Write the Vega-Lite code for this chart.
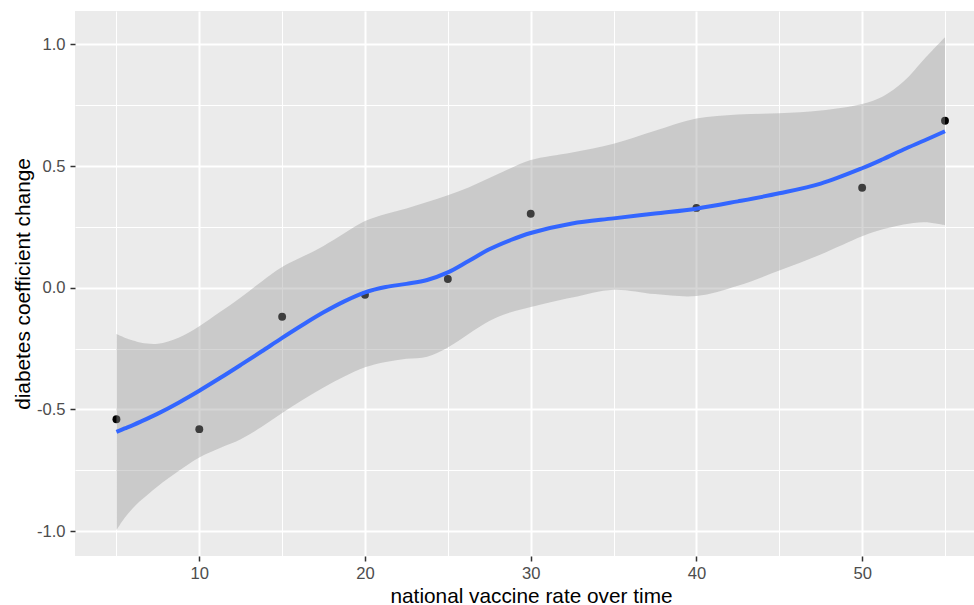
{
  "$schema": "https://vega.github.io/schema/vega-lite/v6.json",
  "width": 899,
  "height": 545,
  "autosize": {"type": "none"},
  "padding": {"left": 75, "top": 11, "right": 0, "bottom": 49},
  "background": "white",
  "config": {
    "view": {"fill": "#EBEBEB", "stroke": null},
    "font": "Liberation Sans"
  },
  "datasets": {
    "points": [
      {"x": 5, "y": -0.540},
      {"x": 10, "y": -0.581},
      {"x": 15, "y": -0.119},
      {"x": 20, "y": -0.029},
      {"x": 25, "y": 0.036},
      {"x": 30, "y": 0.304},
      {"x": 40, "y": 0.328},
      {"x": 50, "y": 0.411},
      {"x": 55, "y": 0.686}
    ],
    "fit": [
      {"x": 5, "fit": -0.592, "lower": -0.996, "upper": -0.19},
      {"x": 5.5, "fit": -0.578, "lower": -0.945, "upper": -0.205},
      {"x": 6, "fit": -0.564, "lower": -0.905, "upper": -0.217},
      {"x": 6.5, "fit": -0.549, "lower": -0.872, "upper": -0.226},
      {"x": 7.5, "fit": -0.517, "lower": -0.815, "upper": -0.23},
      {"x": 8.75, "fit": -0.472, "lower": -0.753, "upper": -0.205},
      {"x": 10, "fit": -0.423, "lower": -0.697, "upper": -0.158},
      {"x": 11.25, "fit": -0.371, "lower": -0.658, "upper": -0.1},
      {"x": 12.5, "fit": -0.317, "lower": -0.622, "upper": -0.04},
      {"x": 13.75, "fit": -0.262, "lower": -0.572, "upper": 0.025},
      {"x": 15, "fit": -0.206, "lower": -0.515, "upper": 0.085},
      {"x": 16.25, "fit": -0.152, "lower": -0.46, "upper": 0.128},
      {"x": 17.5, "fit": -0.101, "lower": -0.41, "upper": 0.172},
      {"x": 18.75, "fit": -0.056, "lower": -0.365, "upper": 0.224},
      {"x": 20, "fit": -0.019, "lower": -0.327, "upper": 0.274},
      {"x": 21.25, "fit": 0.003, "lower": -0.305, "upper": 0.303},
      {"x": 22.5, "fit": 0.016, "lower": -0.292, "upper": 0.326},
      {"x": 23.75, "fit": 0.032, "lower": -0.283, "upper": 0.352},
      {"x": 25, "fit": 0.063, "lower": -0.245, "upper": 0.38},
      {"x": 26.25, "fit": 0.11, "lower": -0.19, "upper": 0.412},
      {"x": 27.5, "fit": 0.158, "lower": -0.137, "upper": 0.451},
      {"x": 28.75, "fit": 0.195, "lower": -0.102, "upper": 0.49},
      {"x": 30, "fit": 0.225, "lower": -0.079, "upper": 0.525},
      {"x": 32.5, "fit": 0.264, "lower": -0.04, "upper": 0.556},
      {"x": 35, "fit": 0.285, "lower": -0.008, "upper": 0.592},
      {"x": 37.5, "fit": 0.305, "lower": -0.026, "upper": 0.645},
      {"x": 40, "fit": 0.325, "lower": -0.034, "upper": 0.695},
      {"x": 42.5, "fit": 0.355, "lower": 0.008, "upper": 0.712},
      {"x": 45, "fit": 0.388, "lower": 0.071, "upper": 0.717},
      {"x": 47.5, "fit": 0.428, "lower": 0.137, "upper": 0.728},
      {"x": 50, "fit": 0.491, "lower": 0.212, "upper": 0.755},
      {"x": 51.25, "fit": 0.528, "lower": 0.24, "upper": 0.786},
      {"x": 52.5, "fit": 0.568, "lower": 0.26, "upper": 0.847},
      {"x": 53.75, "fit": 0.605, "lower": 0.269, "upper": 0.94},
      {"x": 55, "fit": 0.643, "lower": 0.257, "upper": 1.029}
    ]
  },
  "layer": [
    {
      "data": {"name": "points"},
      "mark": {"type": "circle", "size": 62, "color": "black", "opacity": 1},
      "encoding": {
        "x": {
          "field": "x", "type": "quantitative",
          "scale": {"domain": [2.5, 56.75], "nice": false, "zero": false},
          "axis": {
            "orient": "bottom",
            "values": [10, 20, 30, 40, 50],
            "grid": true, "gridColor": "white", "gridWidth": 2,
            "domain": false,
            "tickColor": "#333333", "tickSize": 5, "tickWidth": 1.5,
            "labelFont": "Liberation Sans", "labelFontSize": 16.6, "labelColor": "#4D4D4D",
            "labelBaseline": "alphabetic", "labelPadding": 17, "labelFlush": false, "labelOverlap": false,
            "title": "national vaccine rate over time",
            "titleFont": "Liberation Sans", "titleFontSize": 20.8, "titleFontWeight": "normal", "titleColor": "black",
            "titleX": 456, "titleY": 46, "titleBaseline": "alphabetic", "titleAlign": "center"
          }
        },
        "y": {
          "field": "y", "type": "quantitative",
          "scale": {"domain": [-1.102, 1.137], "nice": false, "zero": false},
          "axis": {
            "orient": "left",
            "values": [-1, -0.5, 0, 0.5, 1],
            "labelExpr": "datum.value < 0 ? '-' + format(-datum.value, '.1f') : format(datum.value, '.1f')",
            "grid": true, "gridColor": "white", "gridWidth": 2,
            "domain": false,
            "tickColor": "#333333", "tickSize": 5, "tickWidth": 1.5,
            "labelFont": "Liberation Sans", "labelFontSize": 16.6, "labelColor": "#4D4D4D",
            "labelBaseline": "middle", "labelPadding": 5, "labelFlush": false, "labelOverlap": false,
            "title": "diabetes coefficient change",
            "titleFont": "Liberation Sans", "titleFontSize": 20.8, "titleFontWeight": "normal", "titleColor": "black",
            "titleX": -46, "titleY": 272.5, "titleAngle": 270, "titleBaseline": "alphabetic", "titleAlign": "center"
          }
        }
      }
    },
    {
      "data": {"name": "fit"},
      "mark": {"type": "area", "color": "#999999", "opacity": 0.4, "interpolate": "catmull-rom"},
      "encoding": {
        "x": {
          "field": "x", "type": "quantitative",
          "axis": {
            "orient": "bottom",
            "values": [5, 15, 25, 35, 45, 55],
            "grid": true, "gridColor": "white", "gridWidth": 1,
            "domain": false, "ticks": false, "labels": false, "title": null
          }
        },
        "y": {
          "field": "lower", "type": "quantitative",
          "axis": {
            "orient": "left",
            "values": [-0.75, -0.25, 0.25, 0.75],
            "grid": true, "gridColor": "white", "gridWidth": 1,
            "domain": false, "ticks": false, "labels": false, "title": null
          }
        },
        "y2": {"field": "upper"}
      }
    },
    {
      "data": {"name": "fit"},
      "mark": {"type": "line", "color": "#3366FF", "strokeWidth": 4, "interpolate": "catmull-rom"},
      "encoding": {
        "x": {"field": "x", "type": "quantitative", "axis": null},
        "y": {"field": "fit", "type": "quantitative", "axis": null}
      }
    }
  ],
  "resolve": {"axis": {"x": "independent", "y": "independent"}}
}
